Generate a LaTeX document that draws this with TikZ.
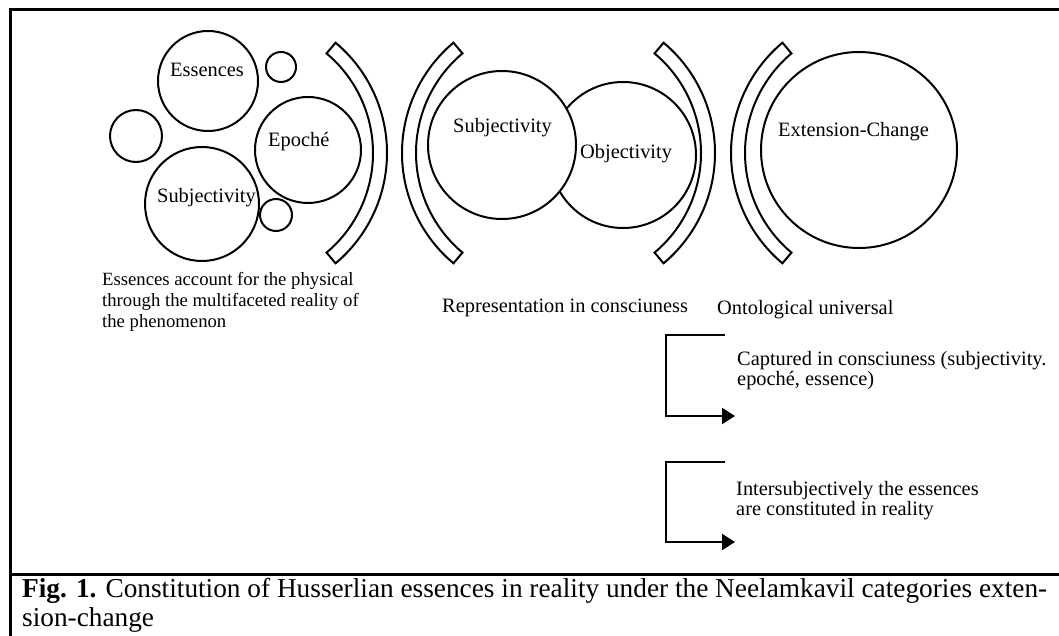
\documentclass[tikz,border=0pt]{standalone}
\usepackage{fontspec}
\setmainfont{Liberation Serif}
\usetikzlibrary{arrows.meta}

\begin{document}
\begin{tikzpicture}[x=1pt,y=-1pt,
    bubble/.style={draw,circle,line width=2pt,fill=white,inner sep=0pt},
    lbl/.style={anchor=base west,inner sep=0pt,font=\fontsize{20.4}{20}\selectfont},
    note/.style={anchor=base west,inner sep=0pt,align=left,font=\fontsize{20.4}{20}\selectfont},
    band/.style={draw,line width=2pt,line join=miter},
    flow/.style={line width=2.2pt,line join=miter,-{Triangle[length=13pt,width=16pt]}}]
  \useasboundingbox (0,0) rectangle (1059,636);
  % frame
  \draw[line width=3pt] (1059,10) -- (10,10) -- (10,636);
  \draw[line width=3pt] (10,574) -- (1059,574);

  % first group
  \node[bubble,minimum size=100pt] (ess) at (208,81) {};
  \node[bubble,minimum size=30pt] (dotA) at (281,67) {};
  \node[bubble,minimum size=52pt] (dotB) at (136,136) {};
  \node[bubble,minimum size=106pt] (epo) at (308,150) {};
  \node[bubble,minimum size=114pt] (subL) at (202,204) {};
  \node[bubble,minimum size=32pt] (dotC) at (276,215) {};
  \node[lbl] (essT) at (170,77) {Essences};
  \node[lbl] (epoT) at (268,147) {Epoché};
  \node[lbl] (subLT) at (157,203) {Subjectivity};

  % brackets
  \draw[band] ([shift={(243,153)}]-50:144) arc[start angle=-50,end angle=50,radius=144]
    -- ([shift={(243,153)}]50:130) arc[start angle=50,end angle=-50,radius=130] -- cycle;
  \draw[band] ([shift={(546,153)}]130:144) arc[start angle=130,end angle=230,radius=144]
    -- ([shift={(546,153)}]230:130) arc[start angle=230,end angle=130,radius=130] -- cycle;
  \draw[band] ([shift={(571,153)}]-50:144) arc[start angle=-50,end angle=50,radius=144]
    -- ([shift={(571,153)}]50:130) arc[start angle=50,end angle=-50,radius=130] -- cycle;
  \draw[band] ([shift={(875,153)}]130:144) arc[start angle=130,end angle=230,radius=144]
    -- ([shift={(875,153)}]230:130) arc[start angle=230,end angle=130,radius=130] -- cycle;

  % second group
  \node[bubble,minimum size=146pt] (obj) at (623,155) {};
  \node[bubble,minimum size=148pt] (subM) at (502,145) {};
  \node[lbl] (subMT) at (453,133) {Subjectivity};
  \node[lbl] (objT) at (580,159) {Objectivity};

  % third group
  \node[bubble,minimum size=196pt] (ext) at (859,150) {};
  \node[lbl] (extT) at (778,137) {Extension-Change};

  % captions under the groups (base = last line)
  \node[note,font=\fontsize{18.7}{20.7}\selectfont] (phys) at (102,327)
    {Essences account for the physical\\through the multifaceted reality of\\the phenomenon};
  \node[lbl] (repr) at (442,312) {Representation in consciuness};
  \node[lbl] (onto) at (717,314) {Ontological universal};

  % the two steps
  \coordinate (s1a) at (725,335);
  \coordinate (s1b) at (735,416);
  \coordinate (s2a) at (725,462);
  \coordinate (s2b) at (735,542);
  \draw[flow] (s1a) -- ++(-59,0) |- (s1b);
  \draw[flow] (s2a) -- ++(-59,0) |- (s2b);
  \node[note] (capt) at (737,385) {Captured in consciuness (subjectivity.\\epoché, essence)};
  \node[note] (inter) at (736,515) {Intersubjectively the essences\\are constituted in reality};

  % figure caption
  \node[note,font=\fontsize{27.3}{29}\selectfont] (fig) at (22,626)
    {\textbf{Fig. 1.} Constitution of Husserlian essences in reality under the Neelamkavil categories exten-\\sion-change};
\end{tikzpicture}
\end{document}
